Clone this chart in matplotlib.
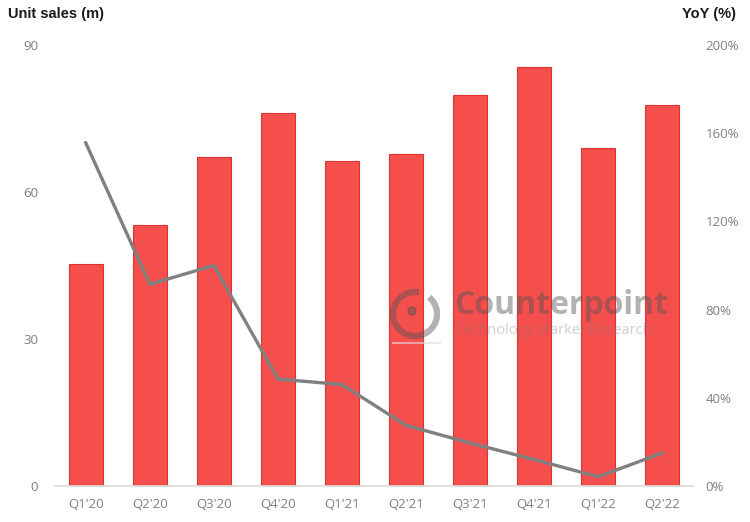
import matplotlib.pyplot as plt
import numpy as np
from matplotlib.patches import Arc, Circle

quarters = ["Q1'20", "Q2'20", "Q3'20", "Q4'20", "Q1'21", "Q2'21",
            "Q3'21", "Q4'21", "Q1'22", "Q2'22"]
unit_sales = [45.3, 53.3, 67.1, 76.1, 66.3, 67.8, 79.8, 85.5, 69.0, 77.8]
yoy = [155.6, 91.5, 100.0, 48.5, 46.0, 27.5, 19.5, 12.0, 4.2, 15.0]

left_ticks = [0, 30, 60, 90]
right_ticks = [0, 40, 80, 120, 160, 200]

plt.rcParams['font.family'] = ['Open Sans', 'DejaVu Sans']

fig = plt.figure(figsize=(7.5, 5.22), dpi=100)
ax = fig.add_axes([55 / 750, 1 - 486 / 522, (693 - 55) / 750, (486 - 45) / 522])
x = np.arange(len(quarters))
ax.bar(x, unit_sales, width=0.53, color='#f44f4c', edgecolor='#e0312f', linewidth=0.8, zorder=2)
ax.set_xlim(-0.48, len(quarters) - 1 + 0.48)
ax.set_ylim(0, 90)
ax.set_yticks(left_ticks)
ax.set_xticks(x)
ax.set_xticklabels(quarters)
for s in ['top', 'right', 'left']:
    ax.spines[s].set_visible(False)
ax.spines['bottom'].set_color('#d9d9d9')
ax.spines['bottom'].set_linewidth(1.2)
ax.tick_params(axis='both', length=0, colors='#7f7f7f', labelsize=9.5)
ax.tick_params(axis='x', pad=9)
ax.tick_params(axis='y', pad=12)

ax2 = ax.twinx()
ax2.plot(x, yoy, color='#808080', linewidth=2.4, zorder=3)
ax2.set_ylim(0, 200)
ax2.set_yticks(right_ticks)
ax2.set_yticklabels([f'{t}%' for t in right_ticks])
for s in ax2.spines.values():
    s.set_visible(False)
ax2.tick_params(axis='y', length=0, colors='#7f7f7f', labelsize=9.5, pad=9)

# axis titles
fig.text(8 / 750, 1 - 14 / 522, 'Unit sales (m)', fontsize=10.5, fontweight='bold',
         family=['Liberation Sans', 'DejaVu Sans'], color='#1a1a1a', va='center', ha='left')
fig.text(736 / 750, 1 - 14 / 522, 'YoY (%)', fontsize=10.5, fontweight='bold',
         family=['Liberation Sans', 'DejaVu Sans'], color='#1a1a1a', va='center', ha='right')

# watermark
fig.text(454 / 750, 1 - 305 / 522, 'Counterpoint', fontsize=23, fontweight='bold',
         color='#555555', alpha=0.45, va='center', ha='left')
fig.text(455 / 750, 1 - 331 / 522, 'Technology Market Research', fontsize=10.5,
         color='#777777', alpha=0.35, va='center', ha='left')
wm = fig.add_axes([385 / 750, 1 - 350 / 522, 60 / 750, 70 / 522])
wm.set_xlim(0, 60)
wm.set_ylim(0, 70)
wm.set_aspect('equal')
wm.axis('off')
wm.add_patch(Arc((30, 36), 44, 44, theta1=80, theta2=410, color='#555555', alpha=0.45, lw=4.5))
wm.add_patch(Circle((27, 39), 4, color='#555555', alpha=0.45))
wm.plot([8, 55], [7, 7], color='#dddddd', alpha=0.6, lw=1.5)

fig.savefig('out.png', dpi=100)
